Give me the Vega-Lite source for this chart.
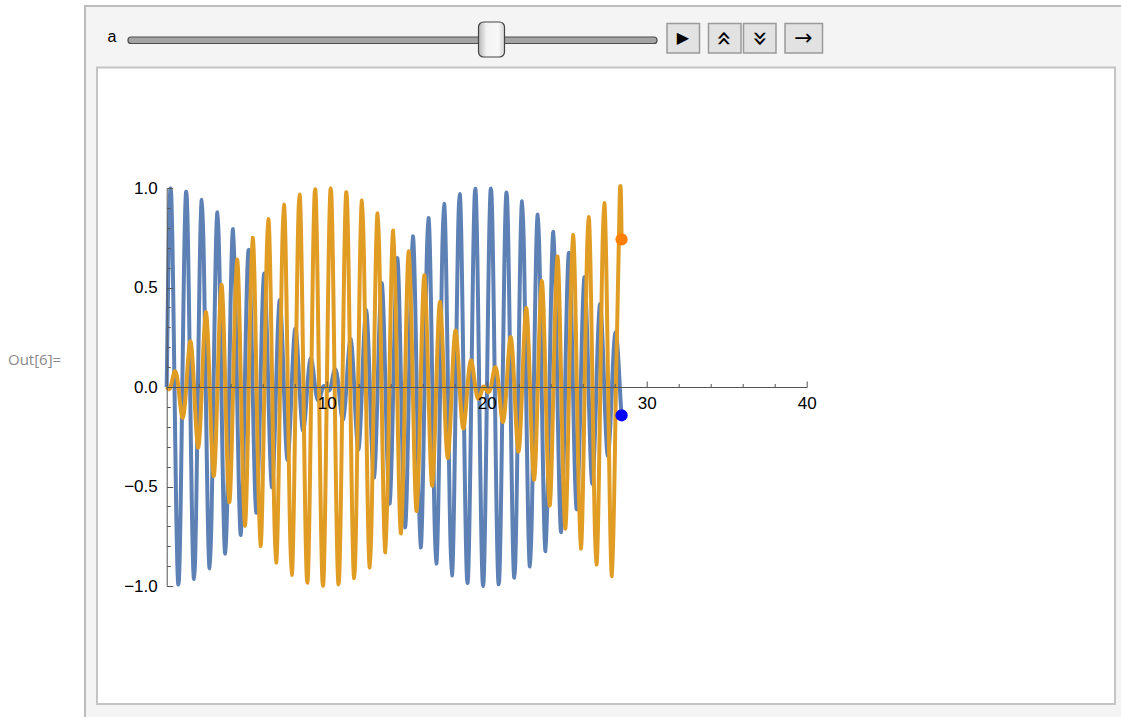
{
"$schema": "https://vega.github.io/schema/vega-lite/v6.json",
"width": 640, "height": 398,
"autosize": {"type": "none"},
"padding": {"left": 166.7, "top": 188, "right": 314.3, "bottom": 131},
"background": "#ffffff",
"config": {"view": {"stroke": null},
  "axis": {"grid": false, "title": null, "labelFont": "Liberation Sans", "labelFontSize": 17, "labelColor": "#000000", "domainColor": "#555555", "tickColor": "#555555", "domainWidth": 1, "tickWidth": 1}},
"datasets": {"curves": [
{"t":0,"b":0,"o":0},{"t":0.244,"b":0.999,"o":0},{"t":0.488,"b":0,"o":0.077},{"t":0.732,"b":-0.993,"o":0},
{"t":0.977,"b":0,"o":-0.154},{"t":1.221,"b":0.981,"o":0},{"t":1.465,"b":0,"o":0.229},{"t":1.709,"b":-0.964,"o":0},
{"t":1.953,"b":0,"o":-0.304},{"t":2.197,"b":0.94,"o":0},{"t":2.441,"b":0,"o":0.376},{"t":2.686,"b":-0.911,"o":0},
{"t":2.93,"b":0,"o":-0.447},{"t":3.174,"b":0.877,"o":0},{"t":3.418,"b":0,"o":0.514},{"t":3.662,"b":-0.837,"o":0},
{"t":3.906,"b":0,"o":-0.579},{"t":4.15,"b":0.793,"o":0},{"t":4.395,"b":0,"o":0.64},{"t":4.639,"b":-0.743,"o":0},
{"t":4.883,"b":0,"o":-0.697},{"t":5.127,"b":0.689,"o":0},{"t":5.371,"b":0,"o":0.75},{"t":5.615,"b":-0.632,"o":0},
{"t":5.859,"b":0,"o":-0.799},{"t":6.104,"b":0.57,"o":0},{"t":6.348,"b":0,"o":0.843},{"t":6.592,"b":-0.505,"o":0},
{"t":6.836,"b":0,"o":-0.882},{"t":7.08,"b":0.437,"o":0},{"t":7.324,"b":0,"o":0.916},{"t":7.568,"b":-0.366,"o":0},
{"t":7.812,"b":0,"o":-0.944},{"t":8.057,"b":0.293,"o":0},{"t":8.301,"b":0,"o":0.967},{"t":8.545,"b":-0.219,"o":0},
{"t":8.789,"b":0,"o":-0.983},{"t":9.033,"b":0.143,"o":0},{"t":9.277,"b":0,"o":0.994},{"t":9.521,"b":-0.066,"o":0},
{"t":9.766,"b":0,"o":-1.0},{"t":10.01,"b":-0.011,"o":0},{"t":10.254,"b":0,"o":0.999},{"t":10.498,"b":0.088,"o":0},
{"t":10.742,"b":0,"o":-0.992},{"t":10.986,"b":-0.164,"o":0},{"t":11.23,"b":0,"o":0.979},{"t":11.475,"b":0.24,"o":0},
{"t":11.719,"b":0,"o":-0.961},{"t":11.963,"b":-0.314,"o":0},{"t":12.207,"b":0,"o":0.937},{"t":12.451,"b":0.386,"o":0},
{"t":12.695,"b":0,"o":-0.907},{"t":12.939,"b":-0.456,"o":0},{"t":13.184,"b":0,"o":0.872},{"t":13.428,"b":0.523,"o":0},
{"t":13.672,"b":0,"o":-0.831},{"t":13.916,"b":-0.587,"o":0},{"t":14.16,"b":0,"o":0.786},{"t":14.404,"b":0.648,"o":0},
{"t":14.648,"b":0,"o":-0.736},{"t":14.893,"b":-0.705,"o":0},{"t":15.137,"b":0,"o":0.682},{"t":15.381,"b":0.757,"o":0},
{"t":15.625,"b":0,"o":-0.623},{"t":15.869,"b":-0.806,"o":0},{"t":16.113,"b":0,"o":0.561},{"t":16.357,"b":0.849,"o":0},
{"t":16.602,"b":0,"o":-0.496},{"t":16.846,"b":-0.887,"o":0},{"t":17.09,"b":0,"o":0.427},{"t":17.334,"b":0.92,"o":0},
{"t":17.578,"b":0,"o":-0.356},{"t":17.822,"b":-0.947,"o":0},{"t":18.066,"b":0,"o":0.283},{"t":18.311,"b":0.969,"o":0},
{"t":18.555,"b":0,"o":-0.208},{"t":18.799,"b":-0.985,"o":0},{"t":19.043,"b":0,"o":0.132},{"t":19.287,"b":0.996,"o":0},
{"t":19.531,"b":0,"o":-0.056},{"t":19.775,"b":-1.0,"o":0},{"t":20.019,"b":0,"o":-0.021},{"t":20.264,"b":0.998,"o":0},
{"t":20.508,"b":0,"o":0.098},{"t":20.752,"b":-0.991,"o":0},{"t":20.996,"b":0,"o":-0.175},{"t":21.24,"b":0.977,"o":0},
{"t":21.484,"b":0,"o":0.25},{"t":21.728,"b":-0.958,"o":0},{"t":21.973,"b":0,"o":-0.324},{"t":22.217,"b":0.933,"o":0},
{"t":22.461,"b":0,"o":0.396},{"t":22.705,"b":-0.902,"o":0},{"t":22.949,"b":0,"o":-0.466},{"t":23.193,"b":0.866,"o":0},
{"t":23.437,"b":0,"o":0.532},{"t":23.682,"b":-0.825,"o":0},{"t":23.926,"b":0,"o":-0.596},{"t":24.17,"b":0.779,"o":0},
{"t":24.414,"b":0,"o":0.656},{"t":24.658,"b":-0.729,"o":0},{"t":24.902,"b":0,"o":-0.712},{"t":25.146,"b":0.674,"o":0},
{"t":25.391,"b":0,"o":0.764},{"t":25.635,"b":-0.615,"o":0},{"t":25.879,"b":0,"o":-0.812},{"t":26.123,"b":0.552,"o":0},
{"t":26.367,"b":0,"o":0.854},{"t":26.611,"b":-0.486,"o":0},{"t":26.855,"b":0,"o":-0.892},{"t":27.1,"b":0.417,"o":0},
{"t":27.344,"b":0,"o":0.924},{"t":27.588,"b":-0.346,"o":0},{"t":27.832,"b":0,"o":-0.951},{"t":28.076,"b":0.273,"o":0},
{"t":28.32,"b":0,"o":0.972},{"t":28.43,"b":-0.142,"o":0.742}
]},
"data": {"name": "curves"},
"layer": [
{"data": {"values": [{}]}, "mark": {"type": "rect", "fill": "#f4f4f4", "stroke": "#bdbdbd", "strokeWidth": 2},
 "encoding": {"x": {"datum": -5.106, "type": "quantitative", "scale": {"domain": [0, 40], "nice": false, "zero": false}, "axis": null}, "x2": {"datum": 60.52},
  "y": {"datum": 1.9146, "type": "quantitative", "scale": {"domain": [-1, 1], "nice": false, "zero": false}, "axis": null}, "y2": {"datum": -1.7236}}},
{"data": {"values": [{}]}, "mark": {"type": "rect", "fill": "#ffffff", "stroke": "#c4c4c4", "strokeWidth": 2},
 "encoding": {"x": {"datum": -4.356, "type": "quantitative", "scale": {"domain": [0, 40], "nice": false, "zero": false}, "axis": null}, "x2": {"datum": 59.269},
  "y": {"datum": 1.6055, "type": "quantitative", "scale": {"domain": [-1, 1], "nice": false, "zero": false}, "axis": null}, "y2": {"datum": -1.593}}},
{"data": {"values": [{}]}, "mark": {"type": "rect", "fill": "#a4a4a4", "stroke": "#4d4d4d", "strokeWidth": 1.2, "cornerRadius": 3},
 "encoding": {"x": {"datum": -2.419, "type": "quantitative", "scale": {"domain": [0, 40], "nice": false, "zero": false}, "axis": null}, "x2": {"datum": 30.644},
  "y": {"datum": 1.7588, "type": "quantitative", "scale": {"domain": [-1, 1], "nice": false, "zero": false}, "axis": null}, "y2": {"datum": 1.7261}}},
{"data": {"values": [{}]}, "mark": {"type": "rect", "stroke": "#444444", "strokeWidth": 1.2, "cornerRadius": 5,
  "fill": {"gradient": "linear", "x1": 0, "y1": 0, "x2": 1, "y2": 0, "stops": [{"offset": 0, "color": "#b4b4b4"}, {"offset": 0.3, "color": "#f2f2f2"}, {"offset": 0.75, "color": "#f8f8f8"}, {"offset": 1, "color": "#d4d4d4"}]}},
 "encoding": {"x": {"datum": 19.4875, "type": "quantitative", "scale": {"domain": [0, 40], "nice": false, "zero": false}, "axis": null}, "x2": {"datum": 21.1125},
  "y": {"datum": 1.8342, "type": "quantitative", "scale": {"domain": [-1, 1], "nice": false, "zero": false}, "axis": null}, "y2": {"datum": 1.6583}}},
{"data": {"values": [{}]}, "mark": {"type": "rect", "fill": "#e2e2e2", "stroke": "#9a9a9a", "strokeWidth": 1.5},
 "encoding": {"x": {"datum": 31.269, "type": "quantitative", "scale": {"domain": [0, 40], "nice": false, "zero": false}, "axis": null}, "x2": {"datum": 33.3},
  "y": {"datum": 1.8266, "type": "quantitative", "scale": {"domain": [-1, 1], "nice": false, "zero": false}, "axis": null}, "y2": {"datum": 1.6784}}},
{"data": {"values": [{}]}, "mark": {"type": "rect", "fill": "#e2e2e2", "stroke": "#9a9a9a", "strokeWidth": 1.5},
 "encoding": {"x": {"datum": 33.8625, "type": "quantitative", "scale": {"domain": [0, 40], "nice": false, "zero": false}, "axis": null}, "x2": {"datum": 35.894},
  "y": {"datum": 1.8266, "type": "quantitative", "scale": {"domain": [-1, 1], "nice": false, "zero": false}, "axis": null}, "y2": {"datum": 1.6784}}},
{"data": {"values": [{}]}, "mark": {"type": "rect", "fill": "#e2e2e2", "stroke": "#9a9a9a", "strokeWidth": 1.5},
 "encoding": {"x": {"datum": 36.05, "type": "quantitative", "scale": {"domain": [0, 40], "nice": false, "zero": false}, "axis": null}, "x2": {"datum": 38.081},
  "y": {"datum": 1.8266, "type": "quantitative", "scale": {"domain": [-1, 1], "nice": false, "zero": false}, "axis": null}, "y2": {"datum": 1.6784}}},
{"data": {"values": [{}]}, "mark": {"type": "rect", "fill": "#e2e2e2", "stroke": "#9a9a9a", "strokeWidth": 1.5},
 "encoding": {"x": {"datum": 38.644, "type": "quantitative", "scale": {"domain": [0, 40], "nice": false, "zero": false}, "axis": null}, "x2": {"datum": 40.988},
  "y": {"datum": 1.8266, "type": "quantitative", "scale": {"domain": [-1, 1], "nice": false, "zero": false}, "axis": null}, "y2": {"datum": 1.6784}}},
{"data": {"values": [{}]}, "mark": {"type": "text", "text": "▶", "font": "DejaVu Sans", "fontSize": 16, "color": "#000000", "baseline": "middle", "align": "center"},
 "encoding": {"x": {"datum": 32.27, "type": "quantitative", "scale": {"domain": [0, 40], "nice": false, "zero": false}, "axis": null},
  "y": {"datum": 1.7513, "type": "quantitative", "scale": {"domain": [-1, 1], "nice": false, "zero": false}, "axis": null}}},
{"data": {"values": [{}]}, "mark": {"type": "text", "text": "«", "angle": 90, "font": "DejaVu Sans", "fontSize": 27, "color": "#000000", "baseline": "middle", "align": "center"},
 "encoding": {"x": {"datum": 34.86, "type": "quantitative", "scale": {"domain": [0, 40], "nice": false, "zero": false}, "axis": null},
  "y": {"datum": 1.7513, "type": "quantitative", "scale": {"domain": [-1, 1], "nice": false, "zero": false}, "axis": null}}},
{"data": {"values": [{}]}, "mark": {"type": "text", "text": "»", "angle": 90, "font": "DejaVu Sans", "fontSize": 27, "color": "#000000", "baseline": "middle", "align": "center"},
 "encoding": {"x": {"datum": 37.05, "type": "quantitative", "scale": {"domain": [0, 40], "nice": false, "zero": false}, "axis": null},
  "y": {"datum": 1.7513, "type": "quantitative", "scale": {"domain": [-1, 1], "nice": false, "zero": false}, "axis": null}}},
{"data": {"values": [{}]}, "mark": {"type": "text", "text": "→", "font": "DejaVu Sans", "fontSize": 22, "color": "#000000", "baseline": "middle", "align": "center"},
 "encoding": {"x": {"datum": 39.8, "type": "quantitative", "scale": {"domain": [0, 40], "nice": false, "zero": false}, "axis": null},
  "y": {"datum": 1.7513, "type": "quantitative", "scale": {"domain": [-1, 1], "nice": false, "zero": false}, "axis": null}}},
{"data": {"values": [{}]}, "mark": {"type": "text", "text": "a", "font": "Liberation Sans", "fontSize": 16, "color": "#000000", "baseline": "middle", "align": "center"},
 "encoding": {"x": {"datum": -3.419, "type": "quantitative", "scale": {"domain": [0, 40], "nice": false, "zero": false}, "axis": null},
  "y": {"datum": 1.7588, "type": "quantitative", "scale": {"domain": [-1, 1], "nice": false, "zero": false}, "axis": null}}},
{"data": {"values": [{}]}, "mark": {"type": "text", "text": "Out[6]=", "font": "Open Sans", "fontSize": 15, "color": "#8a8a8a", "baseline": "middle", "align": "left"},
 "encoding": {"x": {"datum": -9.919, "type": "quantitative", "scale": {"domain": [0, 40], "nice": false, "zero": false}, "axis": null},
  "y": {"datum": 0.1357, "type": "quantitative", "scale": {"domain": [-1, 1], "nice": false, "zero": false}, "axis": null}}},
{"mark": {"type": "line", "color": "#5E81B5", "strokeWidth": 4, "interpolate": "natural"},
 "encoding": {"x": {"field": "t", "type": "quantitative", "scale": {"domain": [0, 40], "nice": false, "zero": false},
   "axis": {"orient": "bottom", "offset": -199, "values": [10, 20, 30, 40], "tickSize": -6, "labelPadding": 14, "labelFlush": false, "zindex": 3}},
  "y": {"field": "b", "type": "quantitative", "scale": {"domain": [-1, 1], "nice": false, "zero": false},
   "axis": {"orient": "left", "values": [-1, -0.5, 0, 0.5, 1], "format": ".1f", "tickSize": -6, "labelPadding": 15.5, "labelFlush": false, "zindex": 3}}}},
{"mark": {"type": "line", "color": "#E19C24", "strokeWidth": 4, "interpolate": "natural"},
 "encoding": {"x": {"field": "t", "type": "quantitative", "scale": {"domain": [0, 40], "nice": false, "zero": false},
   "axis": {"orient": "bottom", "offset": -199, "values": [2, 4, 6, 8, 12, 14, 16, 18, 22, 24, 26, 28, 32, 34, 36, 38], "tickSize": -3.5, "labels": false, "domain": false, "zindex": 3}},
  "y": {"field": "o", "type": "quantitative", "scale": {"domain": [-1, 1], "nice": false, "zero": false},
   "axis": {"orient": "left", "values": [-0.9, -0.8, -0.7, -0.6, -0.4, -0.3, -0.2, -0.1, 0.1, 0.2, 0.3, 0.4, 0.6, 0.7, 0.8, 0.9], "tickSize": -3.5, "labels": false, "domain": false, "zindex": 3}}}},
{"transform": [{"filter": "datum.t == 28.43"}], "mark": {"type": "point", "filled": true, "opacity": 1, "size": 150, "color": "#0000FF"},
 "encoding": {"x": {"field": "t", "type": "quantitative", "scale": {"domain": [0, 40], "nice": false, "zero": false}, "axis": null},
  "y": {"field": "b", "type": "quantitative", "scale": {"domain": [-1, 1], "nice": false, "zero": false}, "axis": null}}},
{"transform": [{"filter": "datum.t == 28.43"}], "mark": {"type": "point", "filled": true, "opacity": 1, "size": 150, "color": "#FF7F00"},
 "encoding": {"x": {"field": "t", "type": "quantitative", "scale": {"domain": [0, 40], "nice": false, "zero": false}, "axis": null},
  "y": {"field": "o", "type": "quantitative", "scale": {"domain": [-1, 1], "nice": false, "zero": false}, "axis": null}}}
],
"resolve": {"axis": {"x": "independent", "y": "independent"}}
}
